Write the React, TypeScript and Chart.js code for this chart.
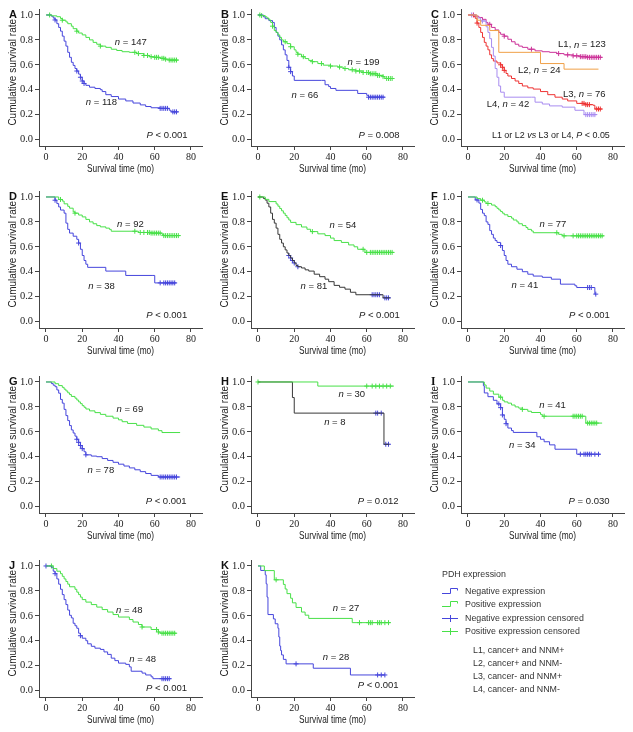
import { useEffect, useRef } from 'react';
import { Chart, registerables } from 'chart.js';
Chart.register(...registerables);

const X_TICKS = [0, 20, 40, 60, 80];
const X_TICK_LABELS = ['0', '20', '40', '60', '80'];
const Y_TICKS = [0, 0.2, 0.4, 0.6, 0.8, 1.0];
const Y_TICK_LABELS = ['0.0', '0.2', '0.4', '0.6', '0.8', '1.0'];
const X_TITLE = 'Survival time (mo)';
const Y_TITLE = 'Cumulative survival rate';

// ---- Panel A ----
const A_POS = [[0,1],[3,0.993],[6,0.986],[8,0.972],[9,0.958],[11,0.944],[12,0.93],[14,0.91],[15,0.89],[17,0.87],[18,0.855],[20,0.84],[22,0.82],[24,0.80],[26,0.78],[28,0.765],[30,0.75],[33,0.74],[36,0.725],[39,0.715],[42,0.705],[46,0.70],[50,0.69],[54,0.675],[57,0.665],[60,0.66],[63,0.652],[66,0.645],[68,0.638],[73,0.638]];
const A_POS_C = [2, 9, 17, 30, 49, 51, 54, 56, 58, 60, 61, 62, 64, 65, 66, 68, 69, 70, 71, 72];
const A_NEG = [[0,1],[3,0.99],[4,0.975],[5,0.96],[6,0.93],[7,0.90],[8,0.87],[9,0.83],[10,0.79],[11,0.75],[12,0.70],[13,0.66],[14,0.62],[15,0.595],[16,0.57],[17,0.55],[18,0.525],[19,0.50],[20,0.47],[21,0.45],[22,0.435],[24,0.42],[27,0.41],[30,0.40],[31,0.385],[33,0.36],[36,0.345],[40,0.325],[44,0.31],[48,0.293],[52,0.278],[55,0.265],[58,0.255],[63,0.25],[68,0.235],[69,0.222],[73,0.222]];
const A_NEG_C = [5, 17, 19, 20, 21, 63, 64, 65, 66, 67, 70, 71, 72];

// ---- Panel B ----
const B_POS = [[0,1],[2,0.995],[4,0.985],[5,0.975],[6,0.96],[7,0.94],[8,0.91],[9,0.875],[10,0.86],[11,0.84],[12,0.82],[13,0.80],[14,0.785],[16,0.77],[18,0.745],[20,0.72],[21,0.70],[22,0.685],[24,0.665],[26,0.65],[28,0.635],[30,0.625],[33,0.61],[36,0.597],[40,0.59],[44,0.582],[47,0.57],[50,0.56],[54,0.55],[58,0.538],[62,0.528],[66,0.515],[69,0.505],[70,0.49],[75,0.49]];
const B_POS_C = [1, 2, 8, 15, 18, 22, 25, 30, 35, 40, 45, 48, 52, 54, 56, 58, 60, 61, 62, 63, 64, 65, 66, 67, 69, 71, 72, 73, 74];
const B_NEG = [[0,1],[3,0.985],[4,0.97],[6,0.955],[8,0.94],[9,0.9],[10,0.86],[11,0.83],[12,0.80],[13,0.76],[14,0.72],[15,0.68],[16,0.635],[17,0.58],[18,0.545],[19,0.51],[20,0.475],[35,0.475],[37,0.44],[39,0.425],[40,0.41],[43,0.395],[54,0.395],[55,0.37],[60,0.355],[61,0.34],[70,0.34]];
const B_NEG_C = [17, 18, 61, 62, 63, 64, 65, 66, 67, 68, 69];

// ---- Panel C ----
const C_L1 = [[0,1],[4,0.99],[6,0.98],[8,0.965],[10,0.94],[11,0.925],[13,0.9],[15,0.88],[17,0.86],[18,0.845],[20,0.83],[22,0.805],[24,0.785],[26,0.765],[28,0.75],[30,0.74],[33,0.725],[37,0.712],[41,0.705],[45,0.70],[49,0.69],[53,0.68],[58,0.672],[62,0.665],[66,0.66],[74,0.66]];
const C_L1_C = [3, 12, 20, 35, 50, 55, 58, 60, 62, 63, 64, 65, 66, 67, 68, 69, 70, 71, 72, 73];
const C_L2 = [[0,1],[5,0.958],[7,0.917],[12,0.875],[17,0.70],[40,0.61],[53,0.565],[72,0.565]];
const C_L2_C: number[] = [];
const C_L3 = [[0,1],[3,0.987],[4,0.973],[5,0.935],[6,0.9],[7,0.86],[8,0.82],[9,0.78],[10,0.75],[11,0.72],[12,0.68],[13,0.65],[14,0.63],[16,0.615],[18,0.60],[19,0.58],[20,0.555],[21,0.53],[22,0.51],[24,0.49],[26,0.47],[28,0.45],[30,0.43],[33,0.415],[36,0.405],[40,0.385],[44,0.36],[48,0.34],[52,0.325],[55,0.31],[60,0.29],[65,0.28],[69,0.275],[70,0.245],[74,0.245]];
const C_L3_C = [5, 18, 19, 20, 63, 64, 65, 66, 67, 71, 72, 73];
const C_L4 = [[0,1],[5,0.976],[7,0.952],[10,0.905],[11,0.86],[12,0.81],[13,0.74],[14,0.67],[15,0.57],[16,0.5],[17,0.43],[18,0.38],[20,0.34],[35,0.34],[37,0.30],[41,0.285],[45,0.27],[52,0.26],[59,0.235],[64,0.20],[71,0.20]];
const C_L4_C = [2, 8, 65, 66, 67, 68, 69, 70];

// ---- Panel D ----
const D_POS = [[0,1],[7,0.98],[9,0.967],[10,0.945],[12,0.925],[13,0.91],[15,0.88],[16,0.87],[18,0.855],[20,0.84],[22,0.82],[24,0.80],[26,0.785],[28,0.77],[30,0.76],[33,0.75],[35,0.74],[36,0.725],[49,0.725],[51,0.715],[58,0.71],[64,0.70],[65,0.69],[74,0.69]];
const D_POS_C = [8, 16, 49, 52, 54, 56, 57, 58, 59, 60, 61, 62, 63, 65, 66, 67, 68, 69, 70, 71, 72, 73];
const D_NEG = [[0,1],[5,0.974],[6,0.947],[7,0.92],[8,0.895],[10,0.87],[11,0.79],[12,0.74],[13,0.71],[15,0.685],[17,0.66],[18,0.63],[19,0.58],[20,0.53],[21,0.49],[22,0.46],[23,0.435],[32,0.435],[33,0.405],[43,0.405],[44,0.37],[59,0.37],[60,0.31],[72,0.31]];
const D_NEG_C = [5, 18, 63, 65, 66, 67, 68, 69, 70, 71];

// ---- Panel E ----
const E_POS = [[0,1],[4,0.981],[6,0.963],[10,0.944],[11,0.926],[12,0.907],[13,0.889],[14,0.87],[15,0.852],[16,0.833],[17,0.815],[18,0.796],[21,0.778],[24,0.759],[27,0.741],[29,0.722],[33,0.704],[37,0.69],[40,0.67],[42,0.65],[46,0.635],[50,0.615],[53,0.60],[55,0.58],[59,0.555],[75,0.555]];
const E_POS_C = [1, 30, 58, 60, 62, 63, 64, 65, 66, 67, 68, 69, 70, 71, 72, 73, 74];
const E_NEG = [[0,1],[3,0.988],[4,0.975],[5,0.95],[6,0.92],[7,0.87],[8,0.82],[9,0.79],[10,0.75],[11,0.70],[12,0.66],[13,0.63],[14,0.60],[15,0.575],[16,0.55],[17,0.53],[18,0.51],[19,0.49],[20,0.47],[21,0.45],[22,0.44],[24,0.43],[26,0.415],[28,0.405],[31,0.38],[34,0.36],[37,0.34],[39,0.32],[42,0.29],[45,0.275],[48,0.26],[51,0.235],[54,0.215],[68,0.215],[69,0.19],[73,0.19]];
const E_NEG_C = [17, 18, 19, 20, 22, 63, 64, 65, 66, 67, 70, 71, 72];

// ---- Panel F ----
const F_POS = [[0,1],[5,0.987],[7,0.974],[9,0.961],[10,0.948],[13,0.935],[15,0.922],[16,0.909],[17,0.896],[18,0.883],[19,0.87],[20,0.857],[22,0.843],[24,0.83],[25,0.815],[27,0.80],[28,0.785],[30,0.77],[32,0.755],[33,0.74],[35,0.727],[36,0.713],[48,0.713],[50,0.70],[52,0.688],[75,0.688]];
const F_POS_C = [8, 11, 49, 53, 58, 60, 61, 62, 63, 64, 65, 66, 67, 68, 69, 70, 71, 72, 73, 74];
const F_NEG = [[0,1],[4,0.976],[6,0.951],[7,0.90],[8,0.87],[9,0.85],[10,0.80],[11,0.78],[12,0.73],[13,0.70],[14,0.67],[15,0.65],[16,0.635],[18,0.61],[19,0.57],[20,0.53],[21,0.49],[22,0.46],[24,0.44],[27,0.42],[30,0.40],[33,0.38],[36,0.365],[41,0.355],[46,0.34],[51,0.30],[59,0.287],[60,0.273],[70,0.22],[70.5,0.22]];
const F_NEG_C = [5, 18, 66, 67, 68, 70.5];

// ---- Panel G ----
const G_POS = [[0,1],[5,0.986],[7,0.971],[9,0.957],[10,0.942],[11,0.928],[12,0.913],[13,0.899],[14,0.884],[16,0.87],[17,0.855],[18,0.84],[19,0.826],[20,0.81],[21,0.797],[22,0.783],[24,0.768],[27,0.754],[30,0.74],[33,0.725],[37,0.71],[40,0.696],[42,0.681],[45,0.667],[50,0.652],[54,0.638],[58,0.623],[62,0.609],[64,0.594],[74,0.594]];
const G_POS_C: number[] = [];
const G_NEG = [[0,1],[3,0.987],[4,0.974],[5,0.962],[6,0.936],[7,0.91],[8,0.86],[9,0.83],[10,0.78],[11,0.73],[12,0.69],[13,0.65],[14,0.615],[15,0.59],[16,0.565],[17,0.54],[18,0.515],[19,0.49],[20,0.465],[21,0.44],[22,0.415],[25,0.405],[28,0.40],[31,0.385],[34,0.37],[37,0.355],[40,0.34],[43,0.325],[46,0.31],[49,0.295],[52,0.28],[55,0.265],[58,0.25],[62,0.237],[74,0.237]];
const G_NEG_C = [17, 18, 19, 20, 22, 63, 64, 65, 66, 67, 68, 69, 70, 71, 72];

// ---- Panel H ----
const H_POS = [[0,1],[33,0.967],[75,0.967]];
const H_POS_C = [0, 60, 63, 65, 67, 69, 71, 73];
const H_NEG = [[0,1],[19,0.875],[20,0.75],[69.5,0.5],[72.5,0.5]];
const H_NEG_C = [65, 66, 68, 70.5, 72];

// ---- Panel I ----
const I_POS = [[0,1],[9,0.976],[10,0.951],[12,0.927],[14,0.902],[17,0.878],[19,0.853],[20,0.84],[22,0.83],[24,0.815],[26,0.80],[28,0.79],[30,0.78],[33,0.765],[35,0.755],[40,0.74],[41,0.725],[64,0.725],[65,0.67],[74,0.67]];
const I_POS_C = [18, 30, 42, 58, 59, 60, 61, 62, 63, 66, 67, 68, 69, 70, 71];
const I_NEG = [[0,1],[8.5,0.97],[9,0.912],[11,0.882],[14,0.853],[16,0.824],[18,0.794],[19,0.735],[20,0.70],[21,0.665],[22,0.63],[24,0.61],[25,0.595],[37,0.595],[38,0.56],[40,0.54],[42,0.52],[45,0.495],[48,0.46],[59,0.46],[60,0.42],[73,0.42]];
const I_NEG_C = [17, 18, 19, 21, 62, 64, 65, 66, 67, 68, 70, 72];

// ---- Panel J ----
const J_POS = [[0,1],[4,0.979],[6,0.958],[8,0.938],[9,0.917],[10,0.896],[11,0.875],[12,0.854],[13,0.833],[16,0.813],[17,0.79],[18,0.77],[19,0.75],[20,0.73],[22,0.71],[25,0.69],[28,0.67],[31,0.65],[34,0.63],[37,0.61],[40,0.59],[46,0.57],[48,0.55],[51,0.53],[53,0.51],[58,0.49],[62,0.47],[63,0.46],[72,0.46]];
const J_POS_C = [3, 53, 61, 62, 64, 65, 66, 67, 68, 69, 70, 71];
const J_NEG = [[0,1],[3,0.99],[4,0.958],[5,0.938],[6,0.896],[7,0.854],[8,0.813],[9,0.77],[10,0.73],[11,0.69],[12,0.646],[13,0.604],[14,0.583],[15,0.54],[16,0.52],[17,0.5],[18,0.46],[19,0.44],[20,0.42],[22,0.40],[23,0.375],[25,0.355],[27,0.34],[30,0.33],[32,0.31],[34,0.29],[36,0.26],[38,0.24],[40,0.22],[44,0.21],[46,0.19],[47,0.155],[53,0.14],[55,0.125],[58,0.11],[59,0.095],[69,0.095]];
const J_NEG_C = [0, 5, 19, 64, 65, 66, 67, 68];

// ---- Panel K ----
const K_POS = [[0,1],[3.5,0.963],[9,0.889],[14,0.852],[15,0.815],[16,0.778],[18,0.741],[19,0.704],[21,0.667],[24,0.63],[26,0.605],[28,0.579],[52,0.545],[73,0.545]];
const K_POS_C = [10, 56, 61, 62, 63, 66, 67, 68, 70, 72];
const K_NEG = [[0,1],[1.5,0.964],[4,0.929],[4.5,0.857],[5,0.75],[5.5,0.61],[8.5,0.575],[9.5,0.536],[11,0.5],[11.5,0.43],[12,0.357],[12.5,0.321],[13,0.286],[14,0.25],[15.5,0.214],[30.5,0.179],[51,0.125],[70,0.125]];
const K_NEG_C = [21, 66, 68, 70];

const NEG = '#4646dc';
const POS = '#48e048';
const DARK = '#383838';
const L1C = '#cc3399';
const L2C = '#f0a048';
const L3C = '#ee3333';
const L4C = '#a88cf0';
const AXIS = '#444444';
const SANS = '"Liberation Sans", Arial, sans-serif';
const SERIF = '"Liberation Serif", "Times New Roman", serif';

type Curve = { pts: number[][]; cens: number[]; color: string; censColor?: string };
type Label = { text: string; x: number; y: number; sx?: number };
type PanelCfg = { letter: string; left: number; top: number; curves: Curve[]; labels: Label[] };

const COLS = [0, 212, 422];
const ROWS = [0, 182, 367, 551];

const PANELS: PanelCfg[] = [
  { letter: 'A', left: COLS[0], top: ROWS[0],
    curves: [{ pts: A_POS, cens: A_POS_C, color: POS }, { pts: A_NEG, cens: A_NEG_C, color: NEG }],
    labels: [{ text: '_n_ = 147', x: 38, y: 0.78 }, { text: '_n_ = 118', x: 22, y: 0.295 }, { text: '_P_ < 0.001', x: 55.5, y: 0.035 }] },
  { letter: 'B', left: COLS[1], top: ROWS[0],
    curves: [{ pts: B_POS, cens: B_POS_C, color: POS }, { pts: B_NEG, cens: B_NEG_C, color: NEG }],
    labels: [{ text: '_n_ = 199', x: 49.4, y: 0.617 }, { text: '_n_ = 66', x: 18.5, y: 0.354 }, { text: '_P_ = 0.008', x: 55.5, y: 0.032 }] },
  { letter: 'C', left: COLS[2], top: ROWS[0],
    curves: [{ pts: C_L2, cens: C_L2_C, color: L2C }, { pts: C_L4, cens: C_L4_C, color: L4C }, { pts: C_L3, cens: C_L3_C, color: L3C }, { pts: C_L1, cens: C_L1_C, color: L1C }],
    labels: [{ text: 'L1, _n_ = 123', x: 49.7, y: 0.76 }, { text: 'L2, _n_ = 24', x: 27.6, y: 0.552 }, { text: 'L3, _n_ = 76', x: 52.4, y: 0.365 }, { text: 'L4, _n_ = 42', x: 10.3, y: 0.285 }, { text: 'L1 or L2 _vs_ L3 or L4, _P_ < 0.05', x: 13.2, y: 0.032, sx: 0.94 }] },
  { letter: 'D', left: COLS[0], top: ROWS[1],
    curves: [{ pts: D_POS, cens: D_POS_C, color: POS }, { pts: D_NEG, cens: D_NEG_C, color: NEG }],
    labels: [{ text: '_n_ = 92', x: 39.2, y: 0.78 }, { text: '_n_ = 38', x: 23.3, y: 0.28 }, { text: '_P_ < 0.001', x: 55.3, y: 0.048 }] },
  { letter: 'E', left: COLS[1], top: ROWS[1],
    curves: [{ pts: E_POS, cens: E_POS_C, color: POS }, { pts: E_NEG, cens: E_NEG_C, color: DARK, censColor: NEG }],
    labels: [{ text: '_n_ = 54', x: 39.5, y: 0.775 }, { text: '_n_ = 81', x: 23.5, y: 0.286 }, { text: '_P_ < 0.001', x: 55.7, y: 0.048 }] },
  { letter: 'F', left: COLS[2], top: ROWS[1],
    curves: [{ pts: F_POS, cens: F_POS_C, color: POS }, { pts: F_NEG, cens: F_NEG_C, color: NEG }],
    labels: [{ text: '_n_ = 77', x: 39.5, y: 0.78 }, { text: '_n_ = 41', x: 24, y: 0.287 }, { text: '_P_ < 0.001', x: 55.7, y: 0.048 }] },
  { letter: 'G', left: COLS[0], top: ROWS[2],
    curves: [{ pts: G_POS, cens: G_POS_C, color: POS }, { pts: G_NEG, cens: G_NEG_C, color: NEG }],
    labels: [{ text: '_n_ = 69', x: 38.9, y: 0.78 }, { text: '_n_ = 78', x: 22.9, y: 0.29 }, { text: '_P_ < 0.001', x: 55, y: 0.043 }] },
  { letter: 'H', left: COLS[1], top: ROWS[2],
    curves: [{ pts: H_POS, cens: H_POS_C, color: POS }, { pts: H_NEG, cens: H_NEG_C, color: DARK, censColor: NEG }],
    labels: [{ text: '_n_ = 30', x: 44.4, y: 0.9 }, { text: '_n_ = 8', x: 36.5, y: 0.677 }, { text: '_P_ = 0.012', x: 55, y: 0.043 }] },
  { letter: 'I', left: COLS[2], top: ROWS[2],
    curves: [{ pts: I_POS, cens: I_POS_C, color: POS }, { pts: I_NEG, cens: I_NEG_C, color: NEG }],
    labels: [{ text: '_n_ = 41', x: 39.3, y: 0.816 }, { text: '_n_ = 34', x: 22.6, y: 0.49 }, { text: '_P_ = 0.030', x: 55.5, y: 0.043 }] },
  { letter: 'J', left: COLS[0], top: ROWS[3],
    curves: [{ pts: J_POS, cens: J_POS_C, color: POS }, { pts: J_NEG, cens: J_NEG_C, color: NEG }],
    labels: [{ text: '_n_ = 48', x: 38.6, y: 0.64 }, { text: '_n_ = 48', x: 46, y: 0.253 }, { text: '_P_ < 0.001', x: 55.2, y: 0.02 }] },
  { letter: 'K', left: COLS[1], top: ROWS[3],
    curves: [{ pts: K_POS, cens: K_POS_C, color: POS }, { pts: K_NEG, cens: K_NEG_C, color: NEG }],
    labels: [{ text: '_n_ = 27', x: 41.2, y: 0.66 }, { text: '_n_ = 28', x: 35.7, y: 0.27 }, { text: '_P_ < 0.001', x: 55, y: 0.043 }] },
];

const W = 211;
const H = 182;

function stepAt(pts: number[][], t: number) {
  let v = pts[0][1];
  for (const p of pts) { if (p[0] <= t) v = p[1]; else break; }
  return v;
}

function drawRich(ctx: CanvasRenderingContext2D, text: string, x: number, y: number, size: number, sx = 1) {
  const parts = text.split('_');
  ctx.save();
  ctx.translate(x, y);
  ctx.scale(sx, 1);
  ctx.textAlign = 'left';
  ctx.textBaseline = 'middle';
  let cx = 0;
  parts.forEach((p, i) => {
    ctx.font = `${i % 2 ? 'italic ' : ''}${size}px ${SANS}`;
    ctx.fillText(p, cx, 0);
    cx += ctx.measureText(p).width;
  });
  ctx.restore();
}

function makeTextPlugin(cfg: PanelCfg) {
  return {
    id: 'panelText',
    afterDraw(chart: any) {
      const ctx: CanvasRenderingContext2D = chart.ctx;
      const xs = chart.scales.x, ys = chart.scales.y;
      const area = chart.chartArea;
      ctx.save();
      ctx.fillStyle = '#222';
      // panel letter
      ctx.fillStyle = '#111';
      ctx.font = cfg.letter === 'I' ? `bold 11.5px ${SERIF}` : `bold 11px ${SANS}`;
      ctx.textAlign = 'left';
      ctx.textBaseline = 'middle';
      ctx.fillText(cfg.letter, 9, ys.getPixelForValue(1.0));
      ctx.fillStyle = '#222';
      // y title
      ctx.save();
      ctx.translate(13, ys.getPixelForValue(0.54));
      ctx.rotate(-Math.PI / 2);
      ctx.font = `10px ${SANS}`;
      ctx.textAlign = 'center';
      ctx.textBaseline = 'middle';
      ctx.fillText(Y_TITLE, 0, 0);
      ctx.restore();
      // x title
      ctx.save();
      ctx.translate((area.left + area.right) / 2, area.bottom + 23);
      ctx.scale(0.83, 1);
      ctx.font = `10px ${SANS}`;
      ctx.textAlign = 'center';
      ctx.textBaseline = 'middle';
      ctx.fillText(X_TITLE, 0, 0);
      ctx.restore();
      // annotations
      for (const l of cfg.labels) {
        drawRich(ctx, l.text, xs.getPixelForValue(l.x), ys.getPixelForValue(l.y), 9.5, l.sx || 1);
      }
      ctx.restore();
    },
  };
}

function Panel({ cfg }: { cfg: PanelCfg }) {
  const ref = useRef<HTMLCanvasElement>(null);
  useEffect(() => {
    const datasets: any[] = [];
    for (const c of cfg.curves) {
      datasets.push({
        data: c.pts.map((p) => ({ x: p[0], y: p[1] })),
        borderColor: c.color,
        borderWidth: 1,
        pointRadius: 0,
        fill: false,
        stepped: 'before',
        tension: 0,
      });
    }
    for (const c of cfg.curves) {
      const cc = c.censColor || c.color;
      datasets.push({
        data: c.cens.map((t) => ({ x: t, y: stepAt(c.pts, t) })),
        showLine: false,
        borderColor: cc,
        backgroundColor: cc,
        borderWidth: 1,
        pointStyle: 'cross',
        pointRadius: 2.5,
        pointHoverRadius: 2.5,
      });
    }
    const chart = new Chart(ref.current!, {
      type: 'line',
      data: { datasets },
      options: {
        animation: false,
        responsive: false,
        maintainAspectRatio: false,
        events: [],
        layout: { padding: { top: 9, right: 9, left: 0, bottom: 0 } },
        plugins: { legend: { display: false }, tooltip: { enabled: false } },
        scales: {
          x: {
            type: 'linear',
            min: -3.86,
            max: 86.07,
            afterBuildTicks: (s: any) => { s.ticks = X_TICKS.map((v) => ({ value: v })); },
            afterFit: (s: any) => { s.height = 36; },
            ticks: {
              callback: (_v: any, i: number) => X_TICK_LABELS[i],
              font: { family: SERIF, size: 10 },
              color: '#222',
              padding: 1,
              maxRotation: 0,
              autoSkip: false,
            },
            grid: { drawOnChartArea: false, drawTicks: true, tickLength: 4, color: AXIS, lineWidth: 1 },
            border: { display: true, color: AXIS, width: 1 },
          },
          y: {
            type: 'linear',
            min: -0.052,
            max: 1.048,
            afterBuildTicks: (s: any) => { s.ticks = Y_TICKS.map((v) => ({ value: v })); },
            afterFit: (s: any) => { s.width = 39; },
            ticks: {
              callback: (_v: any, i: number) => Y_TICK_LABELS[i],
              font: { family: SERIF, size: 10.5 },
              color: '#222',
              padding: 2,
              autoSkip: false,
            },
            grid: { drawOnChartArea: false, drawTicks: true, tickLength: 4, color: AXIS, lineWidth: 1 },
            border: { display: true, color: AXIS, width: 1 },
          },
        },
      },
      plugins: [makeTextPlugin(cfg)],
    } as any);
    return () => chart.destroy();
  }, [cfg]);
  return (
    <canvas ref={ref} width={W} height={H}
      style={{ position: 'absolute', left: cfg.left, top: cfg.top, width: W, height: H }} />
  );
}

const LEGEND_TITLE = 'PDH expression';
const LEGEND_ITEMS = ['Negative expression', 'Positive expression', 'Negative expression censored', 'Positive expression censored'];
const LEGEND_NOTES = ['L1, cancer+ and NNM+', 'L2, cancer+ and NNM-', 'L3, cancer- and NNM+', 'L4, cancer- and NNM-'];

function Legend() {
  const txt = (s: string, left: number, cy: number) => (
    <div key={s} style={{ position: 'absolute', left, top: cy - 6, height: 12, lineHeight: '12px', fontSize: 9.5, fontFamily: SANS, color: '#333', whiteSpace: 'nowrap', transform: 'scaleX(0.93)', transformOrigin: 'left center' }}>{s}</div>
  );
  const rows = [591, 604, 617.5, 630.5];
  const notes = [650, 663, 676, 689];
  const colors = [NEG, POS, NEG, POS];
  return (
    <div style={{ position: 'absolute', left: 0, top: 0 }}>
      {txt(LEGEND_TITLE, 442, 574)}
      {LEGEND_ITEMS.map((s, i) => (
        <div key={'r' + i}>
          <svg style={{ position: 'absolute', left: 441, top: rows[i] - 6 }} width={19} height={12}>
            {i < 2 ? (
              <polyline points="1,8.5 9.5,8.5 9.5,3.5 16.5,3.5 16.5,5.5" fill="none" stroke={colors[i]} strokeWidth={1} />
            ) : (
              <g stroke={colors[i]} strokeWidth={1}>
                <line x1={1} y1={6.5} x2={17} y2={6.5} />
                <line x1={9.5} y1={3} x2={9.5} y2={10} />
              </g>
            )}
          </svg>
          {txt(s, 465, rows[i])}
        </div>
      ))}
      {LEGEND_NOTES.map((s, i) => txt(s, 473, notes[i]))}
    </div>
  );
}

export default function App() {
  return (
    <div style={{ position: 'fixed', left: 0, top: 0, width: 633, height: 732, background: '#fff', overflow: 'hidden' }}>
      {PANELS.map((p) => <Panel key={p.letter} cfg={p} />)}
      <Legend />
    </div>
  );
}
